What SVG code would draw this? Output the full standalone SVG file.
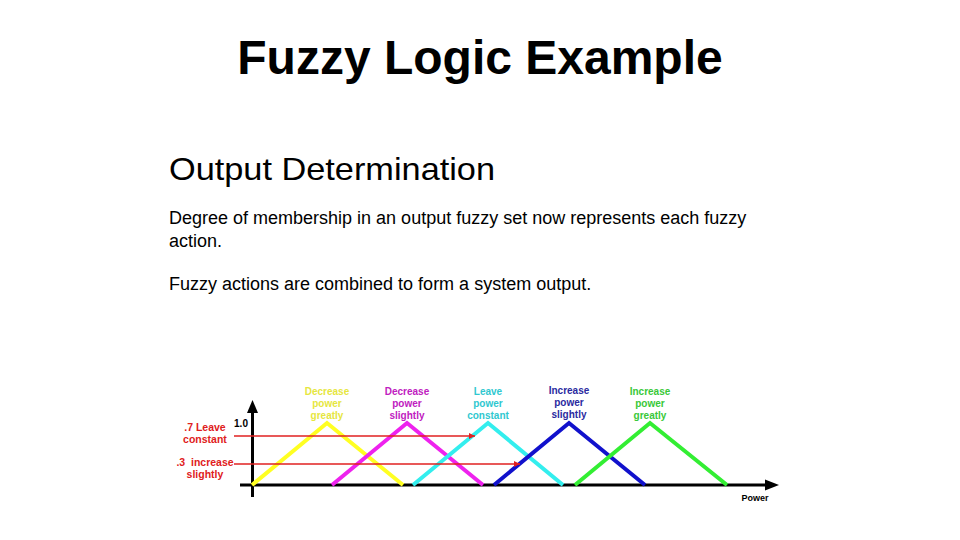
<svg xmlns="http://www.w3.org/2000/svg" width="960" height="540" viewBox="0 0 960 540">
  <defs>
    <style>
      text { font-family: "Liberation Sans", Arial, sans-serif; }
      .title { font-size: 48px; font-weight: bold; fill: #000; }
      .sub { font-size: 32px; fill: #000; }
      .body { font-size: 18px; fill: #000; }
      .lbl { font-size: 10px; font-weight: bold; text-anchor: middle; }
      .side { font-size: 10.5px; font-weight: bold; fill: #e02020; text-anchor: middle; }
      .tri { fill: none; stroke-width: 4; stroke-linejoin: miter; }
      .axis { stroke: #000; stroke-width: 3; fill: none; }
      .red { stroke: #e02020; stroke-width: 1.3; fill: none; }
    </style>
    <marker id="redArrow" viewBox="0 0 10 10" refX="10" refY="5" markerWidth="8" markerHeight="6" markerUnits="userSpaceOnUse" orient="auto">
      <path d="M0,0 L10,5 L0,10 z" fill="#e02020"/>
    </marker>
  </defs>
  <rect width="960" height="540" fill="#fff"/>

  <g id="heading">
    <text class="title" x="480" y="74" text-anchor="middle">Fuzzy Logic Example</text>
    <text class="sub" x="169" y="180" textLength="326" lengthAdjust="spacingAndGlyphs">Output Determination</text>
    <text class="body" x="169" y="224">Degree of membership in an output fuzzy set now represents each fuzzy</text>
    <text class="body" x="169" y="247">action.</text>
    <text class="body" x="169" y="290">Fuzzy actions are combined to form a system output.</text>
  </g>

  <g id="axes">
    <line class="axis" x1="252.5" y1="497" x2="252.5" y2="412"/>
    <path d="M252.5,400 L258,413 L247,413 z" fill="#000"/>
    <line class="axis" x1="240" y1="485" x2="766" y2="485"/>
    <path d="M779,485 L765,479.5 L765,490.5 z" fill="#000"/>
    <text x="241" y="427" font-size="10" font-weight="bold" text-anchor="middle" fill="#000">1.0</text>
    <text x="755" y="501" font-size="9" font-weight="bold" text-anchor="middle" fill="#000">Power</text>
  </g>

  <g id="decrease-greatly">
    <polyline class="tri" stroke="#ffff22" points="252,485 327,423 403,485"/>
    <text class="lbl" fill="#e6e640" x="327" y="395">Decrease</text>
    <text class="lbl" fill="#e6e640" x="327" y="407">power</text>
    <text class="lbl" fill="#e6e640" x="327" y="419">greatly</text>
  </g>

  <g id="decrease-slightly">
    <polyline class="tri" stroke="#ee22ee" points="332,485 407,423 483,485"/>
    <text class="lbl" fill="#c020c0" x="407" y="395">Decrease</text>
    <text class="lbl" fill="#c020c0" x="407" y="407">power</text>
    <text class="lbl" fill="#c020c0" x="407" y="419">slightly</text>
  </g>

  <g id="leave-constant">
    <polyline class="tri" stroke="#33eeee" points="413,485 488,423 563,485"/>
    <text class="lbl" fill="#30c8d0" x="488" y="395">Leave</text>
    <text class="lbl" fill="#30c8d0" x="488" y="407">power</text>
    <text class="lbl" fill="#30c8d0" x="488" y="419">constant</text>
  </g>

  <g id="increase-slightly">
    <polyline class="tri" stroke="#1111cc" points="494,485 569,423 645,485"/>
    <text class="lbl" fill="#2a2aa0" x="569" y="394">Increase</text>
    <text class="lbl" fill="#2a2aa0" x="569" y="406">power</text>
    <text class="lbl" fill="#2a2aa0" x="569" y="418">slightly</text>
  </g>

  <g id="increase-greatly">
    <polyline class="tri" stroke="#33ee33" points="575,485 650,423 727,485"/>
    <text class="lbl" fill="#38c838" x="650" y="395">Increase</text>
    <text class="lbl" fill="#38c838" x="650" y="407">power</text>
    <text class="lbl" fill="#38c838" x="650" y="419">greatly</text>
  </g>

  <g id="side-labels">
    <text class="side" x="205" y="431">.7 Leave</text>
    <text class="side" x="205" y="443">constant</text>
    <text class="side" x="205" y="466" xml:space="preserve">.3  increase</text>
    <text class="side" x="205" y="478">slightly</text>
  </g>

  <g id="connectors">
    <line class="red" x1="234" y1="436" x2="475" y2="436" marker-end="url(#redArrow)"/>
    <line class="red" x1="234" y1="464" x2="520" y2="464" marker-end="url(#redArrow)"/>
  </g>
</svg>
